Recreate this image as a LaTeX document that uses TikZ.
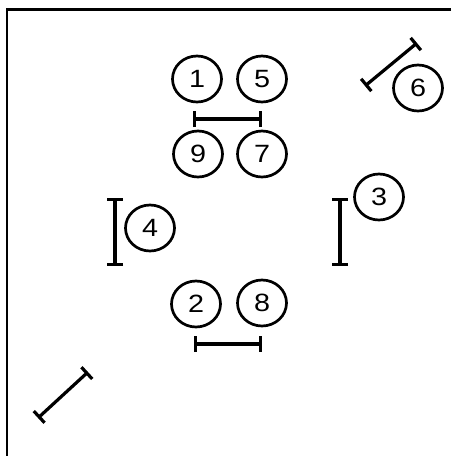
\documentclass[tikz,border=0pt]{standalone}
\usepackage{fontspec}
\setmainfont{Liberation Sans}
\usetikzlibrary{arrows.meta,shapes.geometric}

\begin{document}
\begin{tikzpicture}[x=1pt, y=-1pt,
	seat/.style={ellipse, draw, line width=2.7pt, minimum width=49pt, minimum height=46pt, inner sep=0pt, font=\fontsize{25}{29}\selectfont},
	bar/.style={line width=3.2pt, {Bar[width=16pt]}-{Bar[width=16pt]}}]
	\useasboundingbox (0, 0) rectangle (451, 456);
	\draw [line width=2.5pt] (451, 9.5) -- (7, 9.5) -- (7, 456);
	\node [seat] (s1) at (197, 79) {\scalebox{1.15}[1]{1}};
	\node [seat] (s5) at (262, 79) {\scalebox{1.15}[1]{5}};
	\node [seat] (s9) at (198, 154) {\scalebox{1.15}[1]{9}};
	\node [seat] (s7) at (262, 154) {\scalebox{1.15}[1]{7}};
	\node [seat] (s4) at (150, 228) {\scalebox{1.15}[1]{4}};
	\node [seat] (s3) at (379, 197) {\scalebox{1.15}[1]{3}};
	\node [seat] (s2) at (196, 304) {\scalebox{1.15}[1]{2}};
	\node [seat] (s8) at (262, 303) {\scalebox{1.15}[1]{8}};
	\node [seat] (s6) at (418, 88) {\scalebox{1.15}[1]{6}};
	\coordinate (ta) at (193, 119);
	\coordinate (tb) at (262, 119);
	\coordinate (ba) at (194, 344);
	\coordinate (bb) at (262, 344);
	\coordinate (la) at (115, 198);
	\coordinate (lb) at (115, 266);
	\coordinate (ra) at (340, 198);
	\coordinate (rb) at (340, 266);
	\coordinate (da) at (365, 86);
	\coordinate (db) at (417, 43);
	\coordinate (ea) at (38, 418);
	\coordinate (eb) at (88, 372);
	\draw [bar] (ta) -- (tb);
	\draw [bar] (ba) -- (bb);
	\draw [bar] (la) -- (lb);
	\draw [bar] (ra) -- (rb);
	\draw [bar] (da) -- (db);
	\draw [bar] (ea) -- (eb);
\end{tikzpicture}
\end{document}
